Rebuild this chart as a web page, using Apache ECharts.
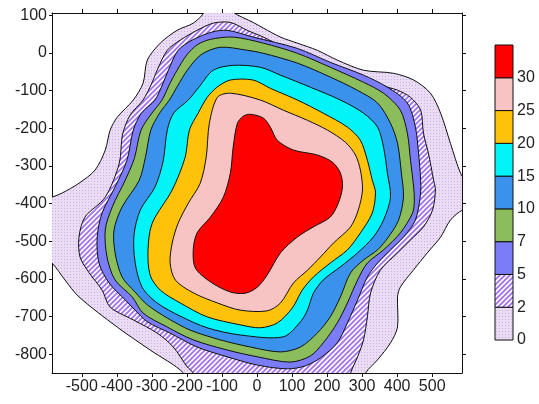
<!DOCTYPE html>
<html>
<head>
<meta charset="utf-8">
<script src="https://cdn.jsdelivr.net/npm/echarts@6/dist/echarts.min.js"></script>
<style>
html, body { margin: 0; padding: 0; background: #fff; }
#chart { width: 539px; height: 404px; }
</style>
</head>
<body>
<div id="chart"></div>
<script>
// contour levels, outer to inner
var levelLabels = ['0', '2', '5', '7', '10', '15', '20', '25', '30'];
var xTicks = [-500, -400, -300, -200, -100, 0, 100, 200, 300, 400, 500];
var yTicks = [100, 0, -100, -200, -300, -400, -500, -600, -700, -800];

// outlines of each filled level (data units)
var c0 = [[-605,-388],[-585,-383],[-556,-372],[-508,-346],[-462,-311],[-433,-258],[-419,-205],[-399,-171],
  [-353,-125],[-325,-80],[-313,-19],[-276,26],[-228,60],[-182,79],[-153,105],[-148,126],[-76,126],[-68,108],
  [-11,81],[18,66],[67,42],[115,26],[172,7],[229,-19],[304,-46],[389,-54],[447,-72],[495,-107],[524,-160],
  [552,-240],[581,-320],[609,-364],[609,-417],[587,-417],[552,-444],[524,-489],[486,-531],[446,-577],
  [409,-622],[401,-648],[401,-728],[381,-770],[344,-815],[310,-850],[304,-882],[-210,-882],[-210,-850],
  [-305,-789],[-399,-728],[-508,-648],[-548,-603],[-585,-558],[-605,-550]];
var c2 = [[-176,-882],[-182,-850],[-199,-834],[-239,-781],[-285,-744],[-353,-709],[-419,-675],[-442,-630],
  [-479,-584],[-505,-542],[-508,-489],[-491,-436],[-433,-383],[-393,-293],[-384,-218],[-362,-165],[-325,-125],
  [-300,-80],[-285,-46],[-256,7],[-219,34],[-171,60],[-125,79],[-76,81],[-28,60],[18,42],[75,15],[132,-11],[181,-25],
  [238,-46],[304,-72],[352,-86],[401,-99],[438,-118],[467,-152],[475,-213],[489,-266],[504,-338],[509,-364],
  [501,-417],[475,-462],[438,-497],[401,-531],[352,-577],[324,-638],[315,-701],[304,-762],[287,-807],
  [267,-850],[261,-882]];
var c5 = [[-353,-205],[-330,-160],[-291,-125],[-268,-80],[-253,-46],[-225,7],[-185,34],[-130,55],[-85,60],[-11,42],
  [115,12],[209,-25],[304,-59],[372,-91],[429,-133],[452,-197],[461,-266],[467,-338],[467,-372],[452,-444],
  [418,-489],[381,-523],[344,-558],[315,-595],[287,-656],[258,-717],[229,-770],[181,-810],[138,-831],
  [87,-839],[1,-829],[-85,-807],[-171,-781],[-248,-744],[-313,-714],[-348,-683],[-376,-656],[-422,-611],
  [-451,-558],[-456,-489],[-442,-425],[-405,-356],[-371,-285]];
var c7 = [[-331,-205],[-300,-160],[-271,-125],[-248,-80],[-228,-46],[-200,-5],[-170,22],[-133,36],[-68,42],[18,26],[115,-1],
  [209,-38],[304,-78],[361,-107],[409,-152],[429,-213],[438,-285],[447,-356],[449,-391],[444,-425],
  [409,-478],[361,-523],[315,-558],[287,-603],[258,-664],[229,-717],[189,-770],[152,-805],[95,-821],
  [1,-807],[-85,-789],[-182,-762],[-256,-728],[-325,-691],[-356,-648],[-405,-603],[-428,-542],[-433,-470],
  [-413,-409],[-376,-338],[-350,-280]];
var c10 = [[-303,-205],[-278,-160],[-250,-125],[-228,-90],[-199,-46],[-160,-5],[-105,15],[-28,7],[18,-1],[115,-27],
  [209,-64],[286,-99],[344,-133],[381,-187],[401,-240],[412,-319],[418,-383],[404,-444],[375,-489],
  [344,-523],[304,-550],[267,-584],[238,-648],[209,-701],[172,-744],[124,-781],[67,-794],[-19,-781],
  [-105,-762],[-191,-736],[-256,-704],[-313,-669],[-348,-635],[-385,-595],[-405,-531],[-408,-470],
  [-385,-409],[-336,-338],[-318,-275]];
var c15 = [[-256,-205],[-238,-160],[-196,-125],[-165,-90],[-125,-46],[-68,-33],[9,-38],[67,-59],
  [152,-91],[238,-125],[304,-160],[344,-197],[361,-250],[372,-319],[381,-383],[361,-444],[332,-489],
  [287,-531],[238,-568],[189,-603],[161,-638],[144,-683],[124,-714],[75,-754],[-48,-749],[-142,-730],
  [-219,-699],[-285,-664],[-328,-622],[-348,-555],[-351,-484],[-333,-417],[-291,-356],[-268,-288]];
var c20 = [[-193,-205],[-168,-160],[-142,-118],[-114,-91],[-76,-72],[-11,-72],[38,-94],[115,-125],
  [189,-160],[258,-197],[295,-232],[315,-285],[329,-338],[338,-370],[329,-425],[295,-478],[258,-523],
  [209,-558],[161,-595],[129,-630],[101,-677],[58,-717],[9,-730],[-48,-722],[-142,-701],[-219,-664],
  [-276,-630],[-305,-590],[-311,-523],[-299,-452],[-242,-364],[-205,-277]];
var c25 = [[-113,-118],[-76,-107],[9,-125],[75,-152],[144,-179],[201,-205],[252,-237],[281,-271],
  [295,-311],[301,-364],[289,-417],[267,-462],[218,-505],[181,-542],[144,-577],[104,-611],[67,-664],
  [29,-685],[-48,-683],[-113,-664],[-182,-637],[-233,-603],[-248,-558],[-242,-505],[-225,-452],
  [-196,-399],[-162,-346],[-145,-277],[-136,-187]];
var c30 = [[-39,-168],[-19,-163],[18,-173],[38,-197],[58,-232],[104,-258],[172,-271],[215,-290],
  [238,-319],[244,-356],[232,-399],[209,-436],[161,-462],[115,-489],[67,-531],[29,-590],[1,-622],
  [-33,-638],[-76,-635],[-133,-608],[-176,-571],[-182,-523],[-171,-478],[-133,-436],[-96,-383],
  [-76,-319],[-68,-250],[-56,-187]];
var contours = [c0, c2, c5, c7, c10, c15, c20, c25, c30];

// fill patterns for the two lowest levels
function dotPattern() {
  var cv = document.createElement('canvas');
  cv.width = 3; cv.height = 3;
  var ctx = cv.getContext('2d');
  ctx.fillStyle = '#eadcf4';
  ctx.fillRect(0, 0, 3, 3);
  ctx.fillStyle = '#cab0e4';
  ctx.fillRect(1, 1, 1, 1);
  return { image: cv, repeat: 'repeat' };
}
function hatchPattern() {
  var n = 5;
  var cv = document.createElement('canvas');
  cv.width = n; cv.height = n;
  var ctx = cv.getContext('2d');
  ctx.fillStyle = '#faf6ff';
  ctx.fillRect(0, 0, n, n);
  ctx.strokeStyle = '#9f72ec';
  ctx.lineWidth = 1.7;
  ctx.beginPath();
  ctx.moveTo(-1, n + 1); ctx.lineTo(n + 1, -1);
  ctx.moveTo(-1, 1); ctx.lineTo(1, -1);
  ctx.moveTo(n - 1, n + 1); ctx.lineTo(n + 1, n - 1);
  ctx.stroke();
  return { image: cv, repeat: 'repeat' };
}
var fills = [dotPattern(), hatchPattern(), '#7b7cf7', '#8cbd5c', '#3a92ec', '#00f4f8', '#ffc20a', '#f8c3c3', '#fe0000'];

var chart = echarts.init(document.getElementById('chart'));

var font = 'Liberation Sans, Arial, sans-serif';
var axisCommon = {
  type: 'value',
  axisLine: { show: true, onZero: false, lineStyle: { color: '#111', width: 1 } },
  splitLine: { show: false }
};

var option = {
  animation: false,
  backgroundColor: '#fff',
  grid: [
    { left: 52, top: 13, width: 410, height: 360 },
    { left: 495, top: 45, width: 18, height: 295 }
  ]
};

option.xAxis = [
  Object.assign({}, axisCommon, {
    gridIndex: 0, position: 'bottom', min: -585, max: 585,
    axisTick: { show: true, length: 4, customValues: xTicks, lineStyle: { color: '#111' } },
    axisLabel: { customValues: xTicks, fontSize: 16, color: '#222', fontFamily: font, margin: 6 }
  }),
  Object.assign({}, axisCommon, {
    gridIndex: 0, position: 'top', min: -585, max: 585,
    axisTick: { show: true, length: 4, customValues: xTicks, lineStyle: { color: '#111' } },
    axisLabel: { show: false }
  }),
  { type: 'value', gridIndex: 1, min: 0, max: 1, show: false }
];
option.yAxis = [
  Object.assign({}, axisCommon, {
    gridIndex: 0, position: 'left', min: -850, max: 106,
    axisTick: { show: true, length: 3, customValues: yTicks, lineStyle: { color: '#111' } },
    axisLabel: { customValues: yTicks, fontSize: 16, color: '#222', fontFamily: font, margin: 5 }
  }),
  Object.assign({}, axisCommon, {
    gridIndex: 0, position: 'right', min: -850, max: 106,
    axisTick: { show: true, length: 4, customValues: yTicks, lineStyle: { color: '#111' } },
    axisLabel: { show: false }
  }),
  {
    type: 'value', gridIndex: 1, min: 0, max: 9, position: 'right',
    axisLine: { show: false }, axisTick: { show: false }, splitLine: { show: false },
    axisLabel: {
      customValues: [0, 1, 2, 3, 4, 5, 6, 7, 8], fontSize: 16, color: '#222', fontFamily: font, margin: 4,
      formatter: function (v) { return levelLabels[v]; }
    }
  }
];

option.series = [
  {
    // filled contour bands
    type: 'custom',
    xAxisIndex: 0,
    yAxisIndex: 0,
    clip: true,
    data: levelLabels.map(function (l, i) { return [i]; }),
    renderItem: function (params, api) {
      var i = api.value(0);
      var pts = contours[i].map(function (p) { return api.coord(p); });
      var cs = params.coordSys;
      return {
        type: 'polygon',
        shape: { points: pts, smooth: 0.3 },
        style: { fill: fills[i], stroke: '#111', lineWidth: 1 },
        clipPath: { type: 'rect', shape: { x: cs.x, y: cs.y, width: cs.width, height: cs.height } }
      };
    }
  },
  {
    // colour bar
    type: 'custom',
    xAxisIndex: 2,
    yAxisIndex: 2,
    data: levelLabels.map(function (l, i) { return [i]; }),
    renderItem: function (params, api) {
      var i = api.value(0);
      var p0 = api.coord([0, i]);
      var p1 = api.coord([1, i + 1]);
      return {
        type: 'rect',
        shape: { x: p0[0], y: p1[1], width: p1[0] - p0[0], height: p0[1] - p1[1] },
        style: { fill: fills[i], stroke: '#111', lineWidth: 1 }
      };
    }
  }
];

chart.setOption(option);
</script>
</body>
</html>
